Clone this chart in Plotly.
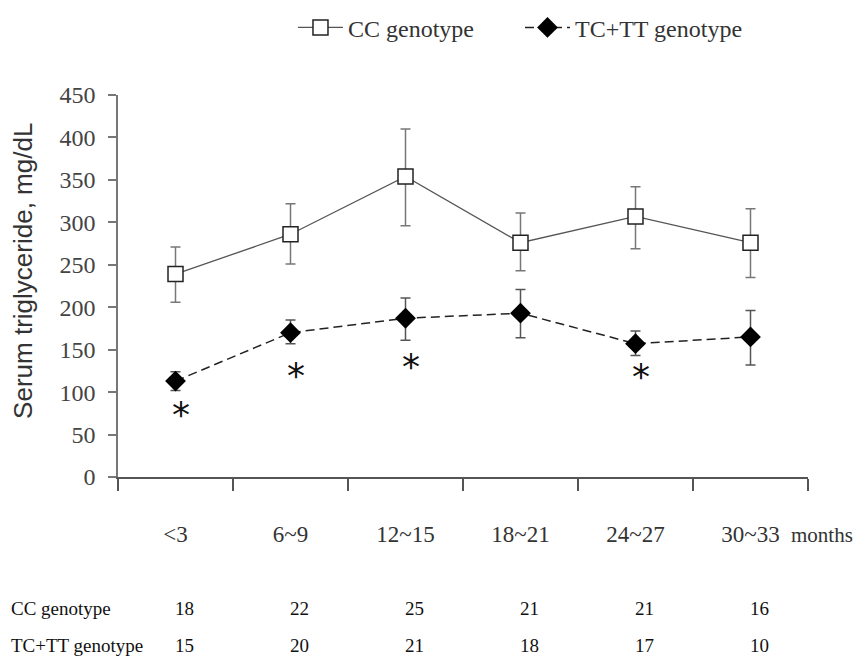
import plotly.graph_objects as go

categories = ["<3", "6~9", "12~15", "18~21", "24~27", "30~33"]

cc_mean = [239, 286, 354, 276, 307, 276]
cc_err_plus = [32, 36, 56, 35, 35, 40]
cc_err_minus = [33, 35, 58, 33, 38, 41]

tc_mean = [113, 170, 187, 193, 157, 165]
tc_err_plus = [11, 15, 24, 28, 15, 31]
tc_err_minus = [11, 13, 26, 29, 14, 33]

cc_n = [18, 22, 25, 21, 21, 16]
tc_n = [15, 20, 21, 18, 17, 10]

sig_categories = ["<3", "6~9", "12~15", "24~27"]
sig_y = [79, 126, 136, 124]

y_ticks = [0, 50, 100, 150, 200, 250, 300, 350, 400, 450]

SERIF = "Liberation Serif"
SANS = "Liberation Sans"

fig = go.Figure()

fig.add_trace(go.Scatter(
    x=categories, y=cc_mean, name="CC genotype", mode="lines+markers",
    line=dict(color="#555555", width=1.3),
    marker=dict(symbol="square", size=15, color="white",
                line=dict(color="#222222", width=1.5)),
    error_y=dict(type="data", array=cc_err_plus, arrayminus=cc_err_minus,
                 color="#777777", thickness=1.5, width=5),
))

fig.add_trace(go.Scatter(
    x=categories, y=tc_mean, name="TC+TT genotype", mode="lines+markers",
    line=dict(color="#222222", width=1.5, dash="9px,5px"),
    marker=dict(symbol="diamond", size=16, color="black",
                line=dict(color="black", width=0)),
    error_y=dict(type="data", array=tc_err_plus, arrayminus=tc_err_minus,
                 color="#555555", thickness=1.5, width=5),
))

annotations = []
for c, yv in zip(sig_categories, sig_y):
    annotations.append(dict(x=c, y=yv, xref="x", yref="y", text="*",
                            showarrow=False, xshift=5, yshift=-5,
                            font=dict(family="DejaVu Sans", size=36, color="#111111"),
                            xanchor="center", yanchor="middle"))

# y-axis title
annotations.append(dict(x=-0.138, y=0.539, xref="paper", yref="paper",
                        text="Serum triglyceride, mg/dL", textangle=-90,
                        showarrow=False, xanchor="center", yanchor="middle",
                        font=dict(family=SANS, size=26, color="#333333")))

# months label
annotations.append(dict(x=0.972, y=-0.152, xref="paper", yref="paper",
                        text="months", showarrow=False, xanchor="left",
                        yanchor="middle",
                        font=dict(family=SERIF, size=21, color="#333333")))

# sample size table
row_y = [-0.343, -0.440]
for label, counts, ry in zip(["CC genotype", "TC+TT genotype"], [cc_n, tc_n], row_y):
    annotations.append(dict(x=-0.158, y=ry, xref="paper", yref="paper",
                            text=label, showarrow=False, xanchor="left",
                            yanchor="middle",
                            font=dict(family=SERIF, size=19, color="#111111")))
    for c, n in zip(categories, counts):
        annotations.append(dict(x=c, y=ry, xref="x", yref="paper",
                                text=str(n), showarrow=False, xshift=9,
                                xanchor="center", yanchor="middle",
                                font=dict(family=SERIF, size=19, color="#111111")))

# margins compensate for the 8px default body margin of the html page
fig.update_layout(
    width=861, height=661, autosize=False,
    margin=dict(l=110, r=61, t=87, b=192),
    paper_bgcolor="white", plot_bgcolor="white",
    showlegend=True,
    legend=dict(orientation="h", x=0.2536, xref="paper", y=0.970,
                yref="container", xanchor="left",
                yanchor="middle", bgcolor="rgba(0,0,0,0)",
                font=dict(family=SERIF, size=24, color="#333333"),
                itemwidth=45, entrywidth=167, entrywidthmode="pixels"),
    annotations=annotations,
    xaxis=dict(type="category", categoryarray=categories, range=[-0.5, 5.5],
               tickson="boundaries", ticks="outside", ticklen=12,
               tickcolor="#555555", tickwidth=1.5,
               showline=True, linecolor="#555555", linewidth=1.5,
               showgrid=False, zeroline=False, ticklabelstandoff=36,
               tickfont=dict(family=SERIF, size=23, color="#333333")),
    yaxis=dict(range=[0, 450], tickvals=y_ticks, ticks="outside", ticklen=8,
               tickcolor="#777777", tickwidth=1.5,
               showline=True, linecolor="#777777", linewidth=1.5,
               showgrid=False, zeroline=False, ticklabelstandoff=8,
               tickfont=dict(family=SERIF, size=24, color="#444444")),
)

fig.write_html("out.html")
